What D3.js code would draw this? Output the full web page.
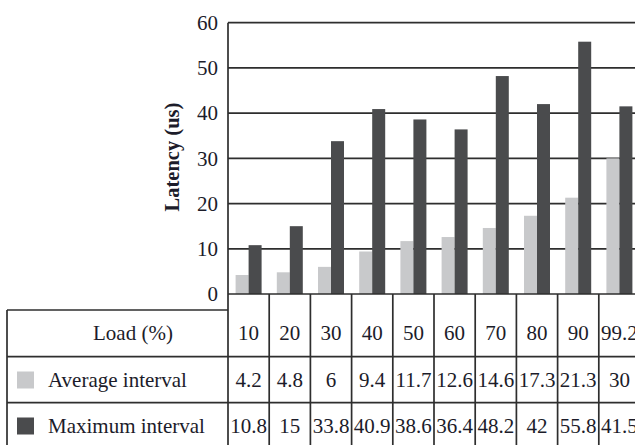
<!DOCTYPE html>
<html>
<head>
<meta charset="utf-8">
<script src="https://cdn.jsdelivr.net/npm/d3@7/dist/d3.min.js"></script>
<style>
  html, body { margin: 0; padding: 0; background: #fff; }
  svg { display: block; }
  text { font-family: "Liberation Serif", "Times New Roman", serif; }
</style>
</head>
<body>
<svg id="chart" width="635" height="445"></svg>
<script>
// ---- data ----
const loads = ["10", "20", "30", "40", "50", "60", "70", "80", "90", "99.2"];
const avgInterval = [4.2, 4.8, 6, 9.4, 11.7, 12.6, 14.6, 17.3, 21.3, 30];
const maxInterval = [10.8, 15, 33.8, 40.9, 38.6, 36.4, 48.2, 42, 55.8, 41.5];
const yTicks = [0, 10, 20, 30, 40, 50, 60];
const seriesNames = ["Average interval", "Maximum interval"];
const rowHeader = "Load (%)";
const yTitle = "Latency (us)";

// ---- layout ----
const svg = d3.select("#chart");
const W = 635, H = 445;
const plotLeft = 228, plotTop = 22.7, plotBottom = 294;
const colW = 41.2;
const tableLeft = 7, tableTop = 310;
const rowLines = [356.7, 402.7, 449];
const lightColor = "#c8c9cb", darkColor = "#4a4b4d", lineColor = "#2e2e2e", textColor = "#1c1c2a";
const fs = 21;

const x = d3.scaleBand().domain(loads).range([plotLeft, plotLeft + colW * loads.length]).padding(0);
const x1 = d3.scaleBand().domain(["avg", "max"]).range([0, x.bandwidth()]).paddingInner(0).paddingOuter(0.585);
const y = d3.scaleLinear().domain([0, 60]).range([plotBottom, plotTop]);

// gridlines
svg.append("g").selectAll("line").data(yTicks.filter(d => d > 0)).join("line")
  .attr("x1", plotLeft).attr("x2", W + 10)
  .attr("y1", d => y(d)).attr("y2", d => y(d))
  .attr("stroke", lineColor).attr("stroke-width", 1.7);

// bars
const rows = loads.map((l, i) => ({ load: l, avg: avgInterval[i], max: maxInterval[i] }));
const g = svg.append("g");
g.selectAll("rect.avg").data(rows).join("rect").attr("class", "avg")
  .attr("x", d => x(d.load) + x1("avg")).attr("width", x1.bandwidth())
  .attr("y", d => y(d.avg)).attr("height", d => y(0) - y(d.avg))
  .attr("fill", lightColor);
g.selectAll("rect.max").data(rows).join("rect").attr("class", "max")
  .attr("x", d => x(d.load) + x1("max")).attr("width", x1.bandwidth())
  .attr("y", d => y(d.max)).attr("height", d => y(0) - y(d.max))
  .attr("fill", darkColor);

// y axis
const yAxis = d3.axisLeft(y).tickValues(yTicks).tickSize(0).tickPadding(10);
const ya = svg.append("g").attr("transform", `translate(${plotLeft},0)`).call(yAxis);
ya.select(".domain").remove();
ya.selectAll("text").attr("font-size", fs).attr("fill", textColor)
  .attr("font-family", "Liberation Serif, serif");

svg.append("text")
  .attr("transform", `translate(179,157) rotate(-90)`)
  .attr("text-anchor", "middle")
  .attr("font-size", 20.5).attr("font-weight", "bold").attr("fill", textColor)
  .text(yTitle);

// x-axis line
svg.append("line").attr("x1", plotLeft).attr("x2", W + 10)
  .attr("y1", plotBottom).attr("y2", plotBottom)
  .attr("stroke", lineColor).attr("stroke-width", 1.7);

// vertical axis line
svg.append("line").attr("x1", plotLeft).attr("x2", plotLeft)
  .attr("y1", plotTop).attr("y2", H + 10)
  .attr("stroke", lineColor).attr("stroke-width", 1.7);

// table
const tbl = svg.append("g");
tbl.selectAll("line.col").data(loads).join("line").attr("class", "col")
  .attr("x1", d => x(d) + colW).attr("x2", d => x(d) + colW)
  .attr("y1", plotBottom).attr("y2", H + 10)
  .attr("stroke", lineColor).attr("stroke-width", 1.7);
tbl.append("line").attr("x1", tableLeft).attr("x2", tableLeft).attr("y1", tableTop).attr("y2", H + 10)
  .attr("stroke", lineColor).attr("stroke-width", 1.7);
tbl.append("line").attr("x1", tableLeft).attr("x2", plotLeft).attr("y1", tableTop).attr("y2", tableTop)
  .attr("stroke", lineColor).attr("stroke-width", 1.7);
tbl.selectAll("line.row").data(rowLines).join("line").attr("class", "row")
  .attr("x1", tableLeft).attr("x2", W + 10)
  .attr("y1", d => d).attr("y2", d => d)
  .attr("stroke", lineColor).attr("stroke-width", 1.7);

const rowCenters = [333, 380, 426];
tbl.append("text").attr("x", 133).attr("y", rowCenters[0]).attr("dy", "0.35em")
  .attr("text-anchor", "middle").attr("font-size", fs).attr("fill", textColor).text(rowHeader);
const swatchColors = [lightColor, darkColor];
seriesNames.forEach((s, i) => {
  tbl.append("rect").attr("x", 17).attr("y", rowCenters[i + 1] - 8.5).attr("width", 17).attr("height", 17)
    .attr("fill", swatchColors[i]);
  tbl.append("text").attr("x", 48).attr("y", rowCenters[i + 1]).attr("dy", "0.35em")
    .attr("font-size", fs).attr("fill", textColor).text(s);
});
const cellRows = [loads, avgInterval.map(String), maxInterval.map(String)];
cellRows.forEach((vals, r) => {
  tbl.selectAll(null).data(vals).join("text")
    .attr("x", (d, i) => x(loads[i]) + colW / 2).attr("y", rowCenters[r]).attr("dy", "0.35em")
    .attr("text-anchor", "middle").attr("font-size", fs).attr("fill", textColor)
    .text(d => d);
});
</script>
</body>
</html>
